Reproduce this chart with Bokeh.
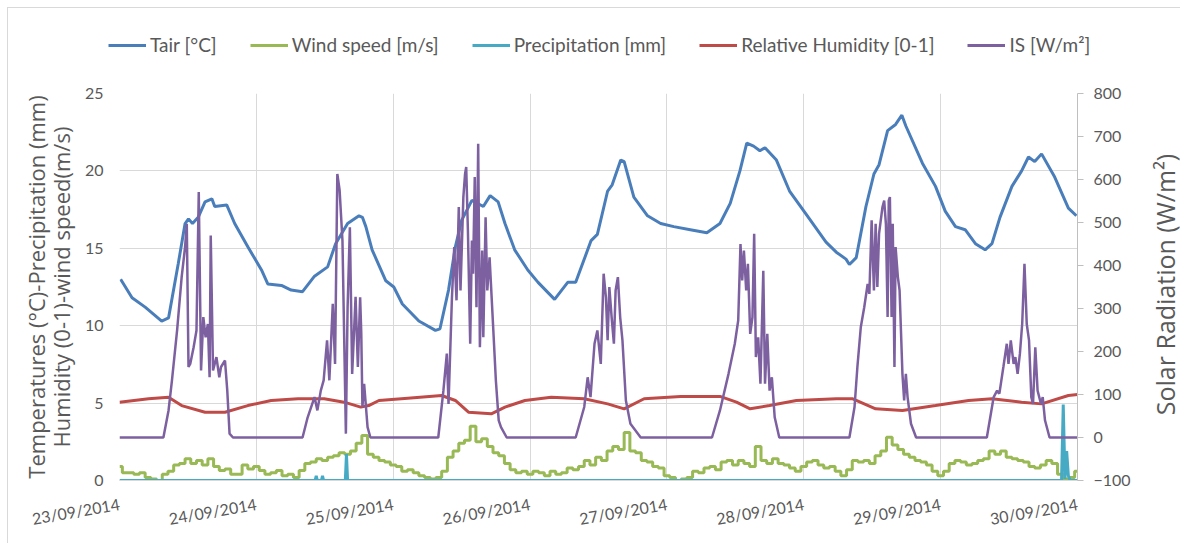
from math import pi
from bokeh.plotting import figure
from bokeh.layouts import column, row
from bokeh.models import (Range1d, LinearAxis, FixedTicker, SingleIntervalTicker,
                          Legend, LegendItem, Label)
from bokeh.embed import file_html
from bokeh.resources import INLINE

# ---------------- data (hours since 23/09/2014 00:00) ----------------
day_ticks = [0, 24, 48, 72, 96, 120, 144, 168]
day_labels = ["23/09/2014", "24/09/2014", "25/09/2014", "26/09/2014",
              "27/09/2014", "28/09/2014", "29/09/2014", "30/09/2014"]

tair_h = [0.2, 2.2, 4.5, 7.4, 8.6, 10.3, 11.5, 12.1, 12.8, 13.8, 15.0, 16.2, 16.7, 18.8, 20.2,
          22.5, 24.9, 26.0, 28.4, 30.1, 32.1, 34.2, 36.5, 37.9, 40.0, 42.0, 42.6, 43.2, 44.3,
          46.7, 48.1, 49.6, 52.5, 55.4, 56.2, 57.7, 58.9, 60.0, 61.8, 63.8, 65.0, 66.4, 67.6,
          69.3, 71.6, 73.4, 76.3, 78.6, 80.0, 82.7, 83.8, 85.6, 86.4, 87.9, 88.5, 90.2, 92.6,
          94.9, 97.2, 100.1, 103.0, 105.3, 107.1, 108.8, 110.0, 111.2, 112.3, 113.2, 115.2,
          117.5, 120.4, 123.9, 125.7, 127.4, 128.0, 129.2, 130.9, 132.3, 133.2, 134.7, 136.1,
          137.2, 137.9, 140.8, 143.1, 144.8, 146.6, 148.3, 150.1, 151.8, 153.0, 154.4, 156.5,
          158.2, 159.4, 160.5, 161.7, 164.0, 166.4, 167.8]
tair_v = [13.0, 11.8, 11.2, 10.3, 10.5, 14.0, 16.6, 16.9, 16.6, 17.0, 18.0, 18.2, 17.7, 17.8, 16.6,
          15.1, 13.6, 12.7, 12.6, 12.3, 12.2, 13.2, 13.8, 15.3, 16.6, 17.1, 17.0, 16.4, 14.9,
          12.9, 12.5, 11.4, 10.3, 9.7, 9.8, 12.3, 15.1, 16.8, 18.1, 17.7, 18.4, 18.0, 16.6,
          14.9, 13.6, 12.8, 11.7, 12.8, 12.8, 15.5, 15.9, 18.7, 19.1, 20.7, 20.6, 18.3, 17.1,
          16.6, 16.4, 16.2, 16.0, 16.6, 17.9, 20.0, 21.8, 21.6, 21.3, 21.5, 20.7,
          18.7, 17.2, 15.4, 14.75, 14.3, 13.95, 14.4, 17.7, 19.8, 20.4, 22.6, 23.0,
          23.6, 22.9, 20.5, 19.0, 17.4, 16.4, 16.2, 15.3, 14.9, 15.3, 17.0, 19.0,
          20.0, 20.9, 20.6, 21.1, 19.6, 17.6, 17.1]

wind_h = list(range(0, 169))
wind_v = [0.9, 0.5, 0.5, 0.4, 0.5, 0.2, 0.1, 0.0, 0.4, 0.6, 1.0, 1.1, 1.4, 1.1, 1.3, 1.0, 1.4, 0.9,
          0.65, 0.75, 0.4, 0.4, 1.0, 0.75, 0.9, 0.65, 0.4, 0.5, 0.65, 0.3, 0.4, 0.2, 0.65, 1.1, 1.2,
          1.4, 1.3, 1.5, 1.6, 1.8, 1.7, 1.9, 2.4,
          2.9, 1.7, 1.5, 1.3, 1.2, 1.0, 0.9, 0.6, 0.7, 0.5, 0.3, 0.2, 0.1, 0.2, 0.6, 1.5, 1.9, 2.4,
          2.6, 3.5, 2.5, 2.7, 2.2, 1.8, 1.6, 1.1, 0.7, 0.5, 0.6, 0.4, 0.6, 0.5, 0.3, 0.6, 0.4, 0.5,
          0.8, 0.7, 0.9, 1.3, 1.0, 1.5, 1.3,
          1.9, 2.2, 2.0, 3.1, 1.9, 1.8, 1.3, 1.2, 0.9, 0.8, 0.3, 0.2, 0.0, 0.1, 0.2, 0.6, 0.5, 0.8,
          0.9, 0.7, 1.2, 1.3, 1.0, 1.3, 1.1, 0.9, 2.2, 1.3, 1.1, 1.4, 1.1, 1.0, 0.8, 0.6, 0.9, 1.2,
          1.3, 1.0, 0.8, 0.9, 0.6, 0.3,
          0.7, 1.3, 1.2, 1.3, 1.1, 1.6, 1.9, 2.8, 2.3, 2.0, 1.7, 1.5, 1.3, 1.2, 1.0, 0.6, 0.3, 0.6,
          1.1, 1.3, 1.2, 1.0, 1.1, 1.3, 1.4, 1.9, 1.7, 1.9, 1.5, 1.4, 1.3, 1.2, 0.9, 0.8, 1.0, 1.3,
          1.1, 0.4, 0.1, 0.2, 0.6]

precip_h = [0, 34.3, 34.5, 34.7, 35.4, 35.6, 35.8, 39.6, 39.8, 40.0,
            165.2, 165.5, 165.8, 166.1, 166.4, 166.7, 168]
precip_v = [0, 0, 0.3, 0, 0, 0.3, 0, 0, 1.7, 0,
            0, 4.9, 0.1, 1.9, 0.3, 0, 0]

rh_h = [0, 5.1, 8.6, 10.9, 15.0, 18.5, 22.5, 26.6, 31.3, 35.9, 39.4, 42.3, 43.7, 45.5, 50.0,
        56.5, 58.9, 61.2, 65.2, 67.6, 71.1, 75.7, 81.5, 85.6, 88.5, 92.0, 98.4, 105.3, 108.2,
        110.6, 114.0, 118.7, 125.7, 128.6, 132.6, 137.3, 143.1, 148.9, 153.0, 158.2, 161.7,
        166.4, 168]
rh_v = [5.06, 5.28, 5.38, 4.84, 4.41, 4.41, 4.84, 5.17, 5.28, 5.28, 5.06, 4.74, 4.84, 5.17, 5.3,
        5.49, 5.17, 4.41, 4.31, 4.74, 5.17, 5.38, 5.28, 4.95, 4.63, 5.28, 5.43, 5.43, 5.06,
        4.63, 4.84, 5.17, 5.28, 5.28, 4.63, 4.52, 4.84, 5.17, 5.28, 5.06, 4.95,
        5.49, 5.55]

is_h = [0, 7.7, 8.6, 9.2, 10.1, 10.9, 11.5, 11.8, 12.1, 12.4, 13.0, 13.5, 13.9, 14.3, 14.7, 15.1,
        15.5, 15.8, 16.0, 16.4, 17.0, 17.5, 17.8, 18.5, 18.9, 19.3, 19.9,
        32.1, 33.0, 34.2, 34.7, 35.3, 35.8, 36.4, 36.8, 37.4, 37.8, 38.2, 38.6, 39.1, 39.7, 40.0,
        40.4, 40.8, 41.4, 41.8, 42.2, 42.4, 42.6, 42.9, 43.5, 44.0,
        55.9, 56.8, 57.4, 57.7, 58.3, 58.7, 59.1, 59.5, 59.8, 60.3, 60.6, 60.8, 61.1, 61.5, 61.8,
        62.0, 62.3, 62.6, 62.9, 63.2, 63.6, 63.8, 64.2, 64.5, 64.9, 65.5, 66.0, 66.5, 66.9, 67.9,
        80.0, 81.5, 82.1, 82.6, 83.3, 83.8, 84.4, 84.9, 85.3, 85.6, 85.9, 86.3, 86.7, 87.0, 87.4,
        87.8, 88.2, 88.8, 89.6, 91.4,
        103.9, 105.3, 106.8, 107.9, 108.5, 108.9, 109.2, 109.5, 109.9, 110.2, 110.6, 111.0,
        111.3, 111.6, 112.0, 112.4, 112.9, 113.2, 113.6, 114.0, 114.4, 114.9, 115.7,
        128.0, 128.9, 129.4, 130.0, 130.6, 131.2, 131.5, 131.9, 132.3, 132.6, 132.9, 133.2,
        133.8, 134.1, 134.4, 134.7, 134.9, 135.1, 135.4, 135.6, 135.9, 136.1, 136.5, 136.8,
        137.3, 137.6, 137.9, 138.2, 138.8, 139.7,
        152.1, 153.3, 153.9, 154.3, 155.0, 155.6, 155.9, 156.3, 156.8, 157.1, 157.5, 157.9,
        158.3, 158.7, 159.1, 159.5, 159.9, 160.2, 160.6, 161.0, 161.6, 161.9, 162.3, 163.1, 168.0]
is_v = [0, 0, 63, 133, 249, 373, 443, 497, 164, 171, 210, 249, 571, 156, 280, 233,
        264, 140, 470, 156, 187, 140, 164, 179, 109, 9, 0,
        0, 47, 94, 63, 109, 133, 226, 133, 311, 171, 613, 575, 458, 9, 303,
        489, 148, 327, 164, 326, 241, 71, 125, 24, 0,
        0, 109, 195, 78, 326, 443, 319, 536, 342, 559, 613, 629, 481, 218, 458,
        381, 606, 303, 683, 210, 435, 233, 512, 342, 419, 264, 133, 40, 24, 0,
        0, 71, 140, 94, 218, 249, 171, 381, 326, 226, 350, 280, 218, 342, 373,
        280, 226, 86, 32, 0,
        0, 63, 148, 218, 272, 450, 365, 435, 342, 404, 241, 280,
        474, 187, 233, 125, 388, 125, 241, 109, 140, 47, 0,
        0, 71, 164, 257, 303, 357, 334, 505, 342, 497, 350, 474,
        536, 551, 497, 280, 551, 559, 280, 497, 164, 443, 373, 342,
        148, 86, 148, 94, 32, 0,
        0, 94, 109, 102, 164, 218, 171, 226, 171, 187, 148, 195,
        264, 404, 264, 226, 94, 78, 210, 109, 78, 94, 40, 0, 0]

series_names = ["Tair [°C]", "Wind speed [m/s]", "Precipitation [mm]",
                "Relative Humidity [0-1]", "IS [W/m²]"]

assert len(tair_h) == len(tair_v)
assert len(wind_h) == len(wind_v)
assert len(precip_h) == len(precip_v)
assert len(rh_h) == len(rh_v)
assert len(is_h) == len(is_v)

# ---------------- styling ----------------
C_TAIR, C_WIND, C_PREC, C_RH, C_IS = "#4A7EBB", "#98B954", "#46AAC5", "#BE4B48", "#7D60A0"
colors = [C_TAIR, C_WIND, C_PREC, C_RH, C_IS]
series = [(tair_h, tair_v), (wind_h, wind_v), (precip_h, precip_v), (rh_h, rh_v), (is_h, is_v)]
GRID = "#d9d9d9"
TXT = "#595959"
FONT = "Lato"
TFONT = "Open Sans"

TOTAL_W = 1172
LEG_H = 60
MAIN_H = 535 - LEG_H
RIGHT_W = 47
MAIN_W = TOTAL_W - RIGHT_W


def bare_fig(w, h):
    f = figure(width=w, height=h, output_backend="svg", toolbar_location=None,
               x_range=Range1d(-3, -2), y_range=Range1d(-3, -2),
               x_axis_location=None, y_axis_location=None,
               min_border=0, min_border_left=0, min_border_right=0,
               min_border_top=0, min_border_bottom=0)
    f.grid.visible = False
    f.outline_line_color = None
    return f


# ---------------- legend strip ----------------
leg_fig = bare_fig(TOTAL_W, LEG_H)
leg_r = [leg_fig.line(sx, sy, line_color=c, line_width=3) for (sx, sy), c in zip(series, colors)]
legend = Legend(items=[LegendItem(label=n, renderers=[r]) for n, r in zip(series_names, leg_r)],
                orientation="horizontal", location=(100, 12))
legend.glyph_width = 38
legend.glyph_height = 20
legend.label_standoff = 4
legend.spacing = 33
legend.padding = 0
legend.margin = 0
legend.border_line_color = None
legend.background_fill_alpha = 0
legend.label_text_font = FONT
legend.label_text_font_size = "19px"
legend.label_text_color = TXT
leg_fig.add_layout(legend)

# ---------------- main plot ----------------
p = figure(width=MAIN_W, height=MAIN_H, output_backend="svg", toolbar_location=None,
           x_range=Range1d(0, 168), y_range=Range1d(0, 25),
           min_border_left=111, min_border_right=50, min_border_top=93 - 8 - LEG_H,
           min_border_bottom=63,
           background_fill_color="white", border_fill_color="white")
p.outline_line_color = None
p.extra_y_ranges = {"rad": Range1d(-100, 800)}

p.xaxis.ticker = FixedTicker(ticks=day_ticks)
p.xaxis.major_label_overrides = {t: l for t, l in zip(day_ticks, day_labels)}
p.xaxis.major_label_orientation = 0.17
p.xaxis.major_tick_line_color = None
p.xaxis.minor_tick_line_color = None
p.xaxis.axis_line_color = GRID
p.xaxis.major_label_text_font = FONT
p.xaxis.major_label_text_font_size = "16px"
p.xaxis.major_label_text_color = TXT
p.xaxis.major_label_standoff = 17

p.yaxis.ticker = FixedTicker(ticks=[0, 5, 10, 15, 20, 25])
p.yaxis.major_tick_line_color = None
p.yaxis.minor_tick_line_color = None
p.yaxis.axis_line_color = None
p.yaxis.major_label_text_font = FONT
p.yaxis.major_label_text_font_size = "16px"
p.yaxis.major_label_text_color = TXT
p.yaxis.major_label_standoff = 10
p.yaxis.axis_label = "Temperatures (°C)-Precipitation (mm)\nHumidity (0-1)-wind speed(m/s)"
p.yaxis.axis_label_text_font = TFONT
p.yaxis.axis_label_text_font_size = "22px"
p.yaxis.axis_label_text_font_style = "normal"
p.yaxis.axis_label_text_color = TXT
p.yaxis.axis_label_text_line_height = 0.84
p.yaxis.axis_label_standoff = 6

ax_r = LinearAxis(y_range_name="rad", ticker=SingleIntervalTicker(interval=100))
ax_r.minor_tick_line_color = None
ax_r.axis_line_color = "#bfbfbf"
ax_r.major_tick_line_color = "#bfbfbf"
ax_r.major_tick_in = 0
ax_r.major_tick_out = 6
ax_r.major_label_text_font = FONT
ax_r.major_label_text_font_size = "16px"
ax_r.major_label_text_color = TXT
ax_r.major_label_standoff = 10
p.add_layout(ax_r, "right")

p.xgrid.ticker = FixedTicker(ticks=day_ticks)
p.xgrid.grid_line_color = GRID
p.ygrid.grid_line_color = GRID

p.line(tair_h, tair_v, line_color=C_TAIR, line_width=3)
p.step(wind_h, wind_v, mode="center", line_color=C_WIND, line_width=3)
p.line(precip_h, precip_v, line_color=C_PREC, line_width=3)
p.line(rh_h, rh_v, line_color=C_RH, line_width=3)
p.line(is_h, is_v, line_color=C_IS, line_width=2.5, y_range_name="rad")

# ---------------- right title strip (its frame is aligned with the main frame) ----------------
rt = bare_fig(RIGHT_W, MAIN_H)
rt.add_layout(Label(x=1164 - 8 - MAIN_W, y=480 - 284, x_units="screen",
                    y_units="screen", text="Solar Radiation (W/m²)", angle=pi / 2,
                    text_align="center", text_baseline="middle",
                    text_font=TFONT, text_font_size="25px", text_color=TXT))

layout = column(leg_fig, row(p, rt, spacing=0), spacing=0, margin=(8, 0, 0, 8))
layout.styles = {"outline": "1px solid #d9d9d9"}

open("out.html", "w").write(file_html(layout, INLINE))
